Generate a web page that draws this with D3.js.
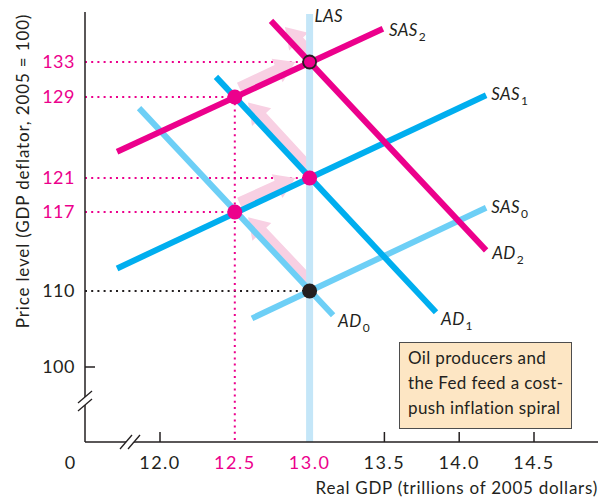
<!DOCTYPE html>
<html>
<head>
<meta charset="utf-8">
<script src="https://cdn.jsdelivr.net/npm/d3@7"></script>
<style>
  body { margin: 0; background: #fff; }
  text { font-family: Lato, "Noto Sans", sans-serif; }
</style>
</head>
<body>
<div id="chart"></div>
<script>
// tick values
const xTicks = [12.0, 12.5, 13.0, 13.5, 14.0, 14.5]
const xPinkTicks = [12.5, 13.0]
const yTicks = [100, 110, 117, 121, 129, 133]
const yPinkTicks = [117, 121, 129, 133]

// curve endpoints [real GDP, price level]
const ad0 = [[11.86, 127.9], [13.157, 106.8]]
const sas0 = [[12.615, 106.4], [14.18, 117.5]]
const ad1 = [[12.374, 131.3], [13.845, 107.2]]
const sas1 = [[11.713, 112.0], [14.18, 129.2]]
const ad2 = [[12.742, 137.7], [14.18, 113.6]]
const sas2 = [[11.713, 123.6], [13.49, 136.8]]
const lasX = 13.0
const lasTop = 138.5

// equilibrium points along the spiral
const spiral = [[13.0, 110], [12.5, 117], [13.0, 121], [12.5, 129], [13.0, 133]]

const width = 600
const height = 501

const svg = d3.select('#chart').append('svg')
    .attr('width', width).attr('height', height)

const x = d3.scaleLinear().domain([12, 14.5]).range([160, 534])
// price axis is not evenly spaced in the original figure
const y = d3.scaleLinear()
    .domain([100, 110, 117, 121, 129, 133])
    .range([367, 291, 212, 178, 97, 62])

const axisLeftX = 85
const axisBottomY = 442
const pink = '#ec008c'
const dark = '#231f20'

// dotted guide lines
const guides = svg.append('g')
yTicks.filter(v => v > 100).forEach(v => {
    const px = (v === 117 || v === 129) ? 12.5 : 13.0
    guides.append('line')
        .attr('x1', axisLeftX).attr('x2', x(px))
        .attr('y1', y(v)).attr('y2', y(v))
        .attr('stroke', v === 110 ? dark : pink)
        .attr('stroke-width', 2)
        .attr('stroke-dasharray', '2,4.2')
})
guides.append('line')
    .attr('x1', x(12.5)).attr('x2', x(12.5))
    .attr('y1', y(129)).attr('y2', axisBottomY)
    .attr('stroke', pink).attr('stroke-width', 2)
    .attr('stroke-dasharray', '2,4.2')

// pink arrows along the spiral
const arrowPath = (a, b, trimTail, trimTip) => {
    const x1 = x(a[0]), y1 = y(a[1]), x2 = x(b[0]), y2 = y(b[1])
    const len = Math.hypot(x2 - x1, y2 - y1)
    const ux = (x2 - x1) / len, uy = (y2 - y1) / len
    // perpendicular pointing upward
    let nx = -uy, ny = ux
    if (ny > 0) { nx = -nx; ny = -ny }
    const off = 6, hw = 6, headW = 13, headL = 20
    const sx = x1 + ux * trimTail + nx * off, sy = y1 + uy * trimTail + ny * off
    const tx = x2 - ux * trimTip + nx * off, ty = y2 - uy * trimTip + ny * off
    const bx = tx - ux * headL, by = ty - uy * headL
    const pts = [
        [sx + nx * hw, sy + ny * hw],
        [bx + nx * hw, by + ny * hw],
        [bx + nx * headW, by + ny * headW],
        [tx, ty],
        [bx - nx * headW, by - ny * headW],
        [bx - nx * hw, by - ny * hw],
        [sx - nx * hw, sy - ny * hw]
    ]
    return 'M' + pts.map(p => p.join(',')).join('L') + 'Z'
}
const arrows = svg.append('g')
for (let i = 0; i < spiral.length - 1; i++) {
    arrows.append('path')
        .attr('d', arrowPath(spiral[i], spiral[i + 1], 8, 13))
        .attr('fill', '#f8d0e3')
}
arrows.append('path')
    .attr('d', arrowPath(spiral[4], ad2[0], 8, 14))
    .attr('fill', '#f8d0e3')

// LAS
svg.append('line')
    .attr('x1', x(lasX)).attr('x2', x(lasX))
    .attr('y1', y(lasTop)).attr('y2', axisBottomY)
    .attr('stroke', '#c4e6f8').attr('stroke-width', 7)

// curves
const curves = [
    [ad0, '#6dcff6'], [sas0, '#6dcff6'],
    [ad1, '#00aeef'], [sas1, '#00aeef'],
    [ad2, pink], [sas2, pink]
]
const line = d3.line().x(d => x(d[0])).y(d => y(d[1]))
svg.append('g').selectAll('path').data(curves).enter().append('path')
    .attr('d', d => line(d[0]))
    .attr('stroke', d => d[1])
    .attr('stroke-width', 6)
    .attr('fill', 'none')

// equilibrium points
svg.append('g').selectAll('circle').data(spiral).enter().append('circle')
    .attr('cx', d => x(d[0])).attr('cy', d => y(d[1]))
    .attr('r', (d, i) => i === 4 ? 6.5 : 7.5)
    .attr('fill', (d, i) => i === 0 ? dark : pink)
    .attr('stroke', (d, i) => i === 4 ? dark : 'none')
    .attr('stroke-width', 1.8)

// curve labels
const labels = [
    ['LAS', '', x(lasX) + 5, y(lasTop) + 8],
    ['SAS', '2', x(sas2[1][0]) + 6, y(sas2[1][1]) + 7],
    ['SAS', '1', x(sas1[1][0]) + 5, y(sas1[1][1]) + 5],
    ['SAS', '0', x(sas0[1][0]) + 5, y(sas0[1][1]) + 5],
    ['AD', '2', x(ad2[1][0]) + 6, y(ad2[1][1]) + 9],
    ['AD', '1', x(ad1[1][0]) + 5, y(ad1[1][1]) + 13],
    ['AD', '0', x(ad0[1][0]) + 5, y(ad0[1][1]) + 12]
]
labels.forEach(l => {
    const t = svg.append('text')
        .attr('x', l[2]).attr('y', l[3])
        .attr('font-size', 17).attr('font-style', 'italic')
        .attr('letter-spacing', 0.4)
        .attr('fill', dark)
        .text(l[0])
    if (l[1]) {
        t.append('tspan').attr('dy', 5).attr('font-size', 12)
            .attr('font-style', 'normal').attr('dx', 1).text(l[1])
    }
})

// axes
const axes = svg.append('g').attr('stroke', dark).attr('stroke-width', 1.5)
axes.append('line')
    .attr('x1', axisLeftX).attr('x2', axisLeftX)
    .attr('y1', 12).attr('y2', axisBottomY)
axes.append('line')
    .attr('x1', axisLeftX).attr('x2', 598)
    .attr('y1', axisBottomY).attr('y2', axisBottomY)
// tick marks
axes.selectAll('.xt').data(xTicks.filter(v => !xPinkTicks.includes(v))).enter()
    .append('line')
    .attr('x1', d => x(d)).attr('x2', d => x(d))
    .attr('y1', axisBottomY).attr('y2', axisBottomY - 10)
axes.append('line')
    .attr('x1', axisLeftX).attr('x2', axisLeftX + 10)
    .attr('y1', y(100)).attr('y2', y(100))

// axis breaks
const brk = svg.append('g')
brk.append('rect').attr('x', axisLeftX - 3).attr('y', 397).attr('width', 6).attr('height', 8).attr('fill', '#fff')
brk.append('rect').attr('x', 126).attr('y', axisBottomY - 3).attr('width', 8).attr('height', 6).attr('fill', '#fff')
;[397, 405].forEach(v => {
    brk.append('line')
        .attr('x1', axisLeftX - 7).attr('y1', v + 6)
        .attr('x2', axisLeftX + 7).attr('y2', v - 6)
        .attr('stroke', dark).attr('stroke-width', 1.3)
})
;[126, 134].forEach(v => {
    brk.append('line')
        .attr('x1', v - 6).attr('y1', axisBottomY + 7)
        .attr('x2', v + 6).attr('y2', axisBottomY - 7)
        .attr('stroke', dark).attr('stroke-width', 1.3)
})

// tick labels
svg.append('g').selectAll('text').data(yTicks).enter().append('text')
    .attr('x', 75).attr('y', d => y(d) + 6)
    .attr('text-anchor', 'end').attr('font-size', 18)
    .attr('letter-spacing', 0.5)
    .attr('fill', d => yPinkTicks.includes(d) ? pink : dark)
    .text(d => d)
svg.append('g').selectAll('text').data(xTicks).enter().append('text')
    .attr('x', d => x(d)).attr('y', 469)
    .attr('text-anchor', 'middle').attr('font-size', 18)
    .attr('letter-spacing', 1.5)
    .attr('fill', d => xPinkTicks.includes(d) ? pink : dark)
    .text(d => d3.format('.1f')(d))
svg.append('text')
    .attr('x', 70).attr('y', 469)
    .attr('text-anchor', 'middle').attr('font-size', 18)
    .attr('fill', dark).text('0')

// axis titles
svg.append('text')
    .attr('x', 598).attr('y', 494)
    .attr('text-anchor', 'end').attr('font-size', 17)
    .attr('letter-spacing', 0.75)
    .attr('fill', dark)
    .text('Real GDP (trillions of 2005 dollars)')
svg.append('text')
    .attr('transform', 'translate(29,171) rotate(-90)')
    .attr('text-anchor', 'middle').attr('font-size', 17)
    .attr('letter-spacing', 0.85)
    .attr('fill', dark)
    .text('Price level (GDP deflator, 2005 = 100)')

// note box
const note = ['Oil producers and', 'the Fed feed a cost-', 'push inflation spiral']
svg.append('rect')
    .attr('x', 399.5).attr('y', 342.5).attr('width', 172).attr('height', 86)
    .attr('fill', '#fde6c4').attr('stroke', '#4d4d4d').attr('stroke-width', 1)
svg.append('g').selectAll('text').data(note).enter().append('text')
    .attr('x', 408).attr('y', (d, i) => 364 + i * 25)
    .attr('font-size', 17).attr('letter-spacing', 0.35).attr('fill', dark)
    .text(d => d)
</script>
</body>
</html>
